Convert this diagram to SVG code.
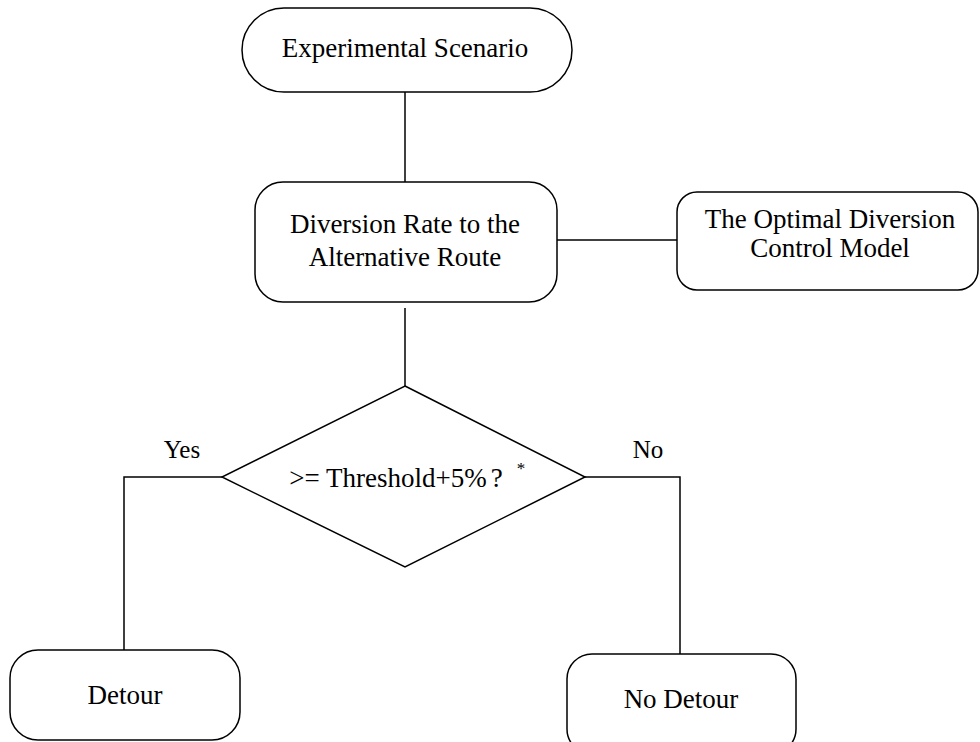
<svg xmlns="http://www.w3.org/2000/svg" width="980" height="742" viewBox="0 0 980 742">
<style>
.n{fill:#fff;stroke:#000;stroke-width:1.5}
.c{fill:none;stroke:#000;stroke-width:1.5}
text{font-family:"Liberation Serif","Times New Roman",serif;font-size:27px;fill:#000;text-anchor:middle}
.l{font-size:25px}
.s{font-size:17px}
</style>
<rect width="980" height="742" fill="#fff"/>
<g id="connectors">
<path class="c" d="M405,92 V183"/>
<path class="c" d="M557,240 H677"/>
<path class="c" d="M405,308 V386"/>
<path class="c" d="M222,477 H124 V650"/>
<path class="c" d="M585,477 H680 V654"/>
</g>
<g id="experimental">
<rect class="n" x="242" y="8" width="330" height="84" rx="42" ry="42"/>
<text x="405" y="57">Experimental Scenario</text>
</g>
<g id="diversion">
<rect class="n" x="255" y="182" width="302" height="120" rx="28" ry="28"/>
<text x="405" y="233">Diversion Rate to the</text>
<text x="405" y="266">Alternative Route</text>
</g>
<g id="optimal">
<rect class="n" x="677" y="192" width="301" height="98" rx="20" ry="20"/>
<text x="830" y="228">The Optimal Diversion</text>
<text x="830" y="257">Control Model</text>
</g>
<g id="decision">
<polygon class="n" points="405,386 585,477 405,567 222,477"/>
<text x="396" y="487">&gt;= Threshold+5%<tspan dx="4">?</tspan></text>
<text class="s" x="521" y="474">*</text>
</g>
<g id="labels">
<text class="l" x="182" y="458">Yes</text>
<text class="l" x="648" y="458">No</text>
</g>
<g id="detour">
<rect class="n" x="10" y="650" width="230" height="90" rx="28" ry="28"/>
<text x="125" y="704">Detour</text>
</g>
<g id="nodetour">
<rect class="n" x="567" y="654" width="229" height="100" rx="25" ry="25"/>
<text x="681" y="708">No Detour</text>
</g>
</svg>
